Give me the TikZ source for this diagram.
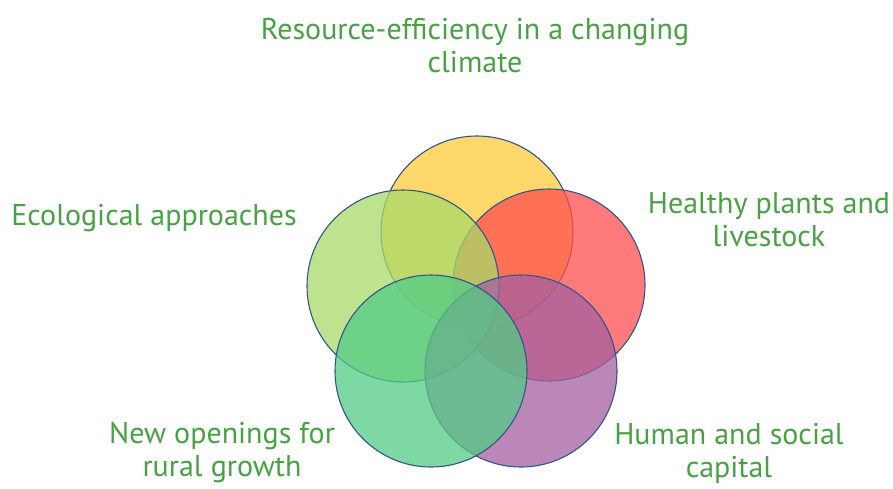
\documentclass[tikz,border=0pt]{standalone}
\usepackage{fontspec}
\setmainfont{PT Sans}
\definecolor{txtgreen}{RGB}{72,162,68}
\definecolor{cyellow}{RGB}{255,204,58}
\definecolor{cgreen}{RGB}{167,218,106}
\definecolor{cred}{RGB}{255,78,78}
\definecolor{cteal}{RGB}{83,203,134}
\definecolor{cpurple}{RGB}{163,96,160}
\definecolor{rim}{RGB}{50,86,140}
\begin{document}
\begin{tikzpicture}[x=1pt,y=-1pt,
  petal/.style={circle,minimum size=192pt,inner sep=0pt,draw=rim,line width=1.1pt,fill opacity=0.75},
  lbl/.style={text=txtgreen,align=center,font=\fontsize{30}{33}\selectfont}]
\useasboundingbox (0,0) rectangle (893,488);
\fill[white] (0,0) rectangle (893,488);
\node[petal,fill=cyellow] (top) at (477,232) {};
\node[petal,fill=cred] (right) at (549,285) {};
\node[petal,fill=cgreen] (left) at (403,286) {};
\node[petal,fill=cpurple] (br) at (521,371) {};
\node[petal,fill=cteal] (bl) at (431,371) {};
\node[lbl] (ltop) at (475,46) {Resource-efficiency in a changing\\climate};
\node[lbl] (lleft) at (154,218) {Ecological approaches};
\node[lbl] (lright) at (769,220) {Healthy plants and\\livestock};
\node[lbl] (lbl) at (222,453) {New openings for\\rural growth};
\node[lbl] (lbr) at (729,453) {Human and social\\capital};
\end{tikzpicture}
\end{document}
